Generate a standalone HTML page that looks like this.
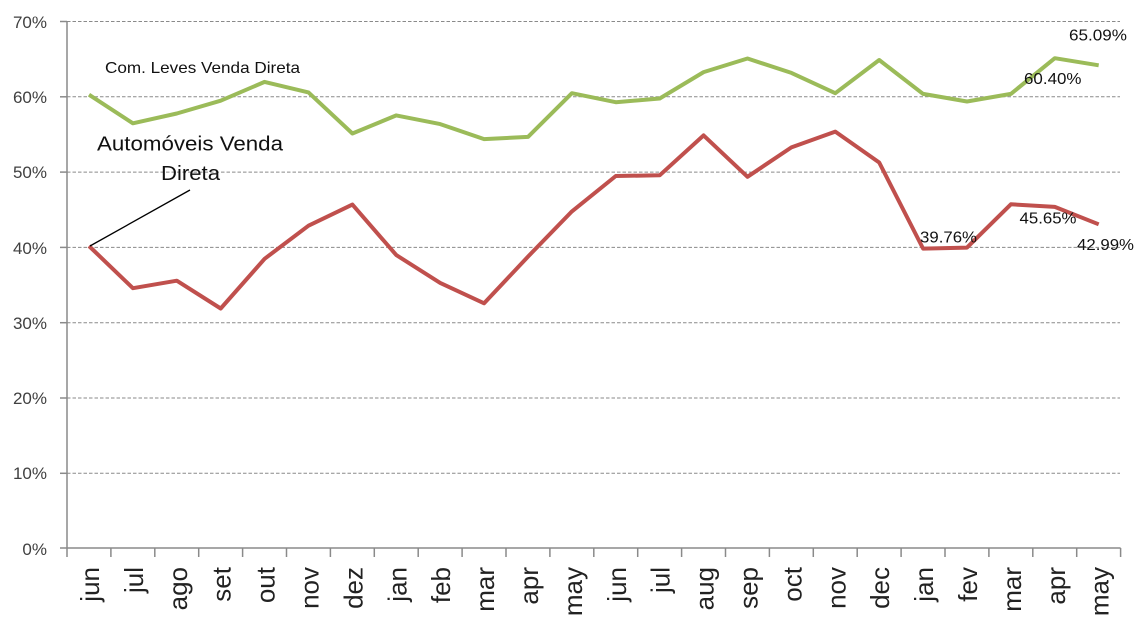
<!DOCTYPE html>
<html>
<head>
<meta charset="utf-8">
<style>
html,body{margin:0;padding:0;background:#fff;}
svg{display:block;}
text{font-family:"Liberation Sans",sans-serif;}
</style>
</head>
<body>
<svg width="1140" height="627" viewBox="0 0 1140 627" xmlns="http://www.w3.org/2000/svg">
<rect width="1140" height="627" fill="#fff"/>
<!-- gridlines -->
<g stroke="#8a8a8a" stroke-width="1" stroke-dasharray="3.5 2">
<line x1="67" y1="21.5" x2="1120" y2="21.5"/>
<line x1="67" y1="96.8" x2="1120" y2="96.8"/>
<line x1="67" y1="172.1" x2="1120" y2="172.1"/>
<line x1="67" y1="247.4" x2="1120" y2="247.4"/>
<line x1="67" y1="322.7" x2="1120" y2="322.7"/>
<line x1="67" y1="398" x2="1120" y2="398"/>
<line x1="67" y1="473.3" x2="1120" y2="473.3"/>
</g>
<!-- axes -->
<g stroke="#8a8a8a" stroke-width="1.5" fill="none">
<line x1="67" y1="21" x2="67" y2="557"/>
<line x1="60" y1="548" x2="1120.6" y2="548"/>
<line x1="60" y1="21.5" x2="67" y2="21.5"/>
<line x1="60" y1="96.8" x2="67" y2="96.8"/>
<line x1="60" y1="172.1" x2="67" y2="172.1"/>
<line x1="60" y1="247.4" x2="67" y2="247.4"/>
<line x1="60" y1="322.7" x2="67" y2="322.7"/>
<line x1="60" y1="398" x2="67" y2="398"/>
<line x1="60" y1="473.3" x2="67" y2="473.3"/>
<path d="M110.9 548V557M154.8 548V557M198.7 548V557M242.6 548V557M286.5 548V557M330.4 548V557M374.3 548V557M418.2 548V557M462.1 548V557M506 548V557M549.9 548V557M593.8 548V557M637.7 548V557M681.6 548V557M725.5 548V557M769.4 548V557M813.3 548V557M857.2 548V557M901.1 548V557M945 548V557M988.9 548V557M1032.8 548V557M1076.7 548V557M1120.6 548V557"/>
</g>
<!-- y labels -->
<g font-size="17" fill="#404040" text-anchor="end">
<text x="47" y="28">70%</text>
<text x="47" y="103">60%</text>
<text x="47" y="178">50%</text>
<text x="47" y="254">40%</text>
<text x="47" y="329">30%</text>
<text x="47" y="404">20%</text>
<text x="47" y="479">10%</text>
<text x="47" y="555">0%</text>
</g>
<!-- x labels -->
<g font-size="26" fill="#222" text-anchor="end">
<text transform="translate(99,567) rotate(-90)">jun</text>
<text transform="translate(142.9,567) rotate(-90)">jul</text>
<text transform="translate(186.8,567) rotate(-90)">ago</text>
<text transform="translate(230.7,567) rotate(-90)">set</text>
<text transform="translate(274.6,567) rotate(-90)">out</text>
<text transform="translate(318.5,567) rotate(-90)">nov</text>
<text transform="translate(362.4,567) rotate(-90)">dez</text>
<text transform="translate(406.3,567) rotate(-90)">jan</text>
<text transform="translate(450.2,567) rotate(-90)">feb</text>
<text transform="translate(494.1,567) rotate(-90)">mar</text>
<text transform="translate(538,567) rotate(-90)">apr</text>
<text transform="translate(581.9,567) rotate(-90)">may</text>
<text transform="translate(625.8,567) rotate(-90)">jun</text>
<text transform="translate(669.7,567) rotate(-90)">jul</text>
<text transform="translate(713.6,567) rotate(-90)">aug</text>
<text transform="translate(757.5,567) rotate(-90)">sep</text>
<text transform="translate(801.4,567) rotate(-90)">oct</text>
<text transform="translate(845.3,567) rotate(-90)">nov</text>
<text transform="translate(889.2,567) rotate(-90)">dec</text>
<text transform="translate(933.1,567) rotate(-90)">jan</text>
<text transform="translate(977,567) rotate(-90)">fev</text>
<text transform="translate(1020.9,567) rotate(-90)">mar</text>
<text transform="translate(1064.8,567) rotate(-90)">apr</text>
<text transform="translate(1108.7,567) rotate(-90)">may</text>
</g>
<!-- series -->
<polyline fill="none" stroke="#9BBB59" stroke-width="4" stroke-linejoin="round" points="89,94.7 132.9,123.3 176.8,113.5 220.7,100.7 264.6,81.9 308.5,92.4 352.4,133.5 396.3,115.4 440.2,124.1 484.1,139.1 528,136.9 571.9,93.2 615.8,102.2 659.7,98.5 703.6,72.1 747.5,58.5 791.4,72.9 835.3,93.2 879.2,60 923.1,93.9 967,101.5 1010.9,93.9 1054.8,58.2 1098.7,65.3"/>
<polyline fill="none" stroke="#C0504D" stroke-width="4" stroke-linejoin="round" points="89,246 132.9,288.2 176.8,280.7 220.7,308.5 264.6,258.8 308.5,225.7 352.4,204.6 396.3,255.1 440.2,282.9 484.1,303.3 528,256.6 571.9,211.4 615.8,176 659.7,175.3 703.6,135.4 747.5,176.8 791.4,147.4 835.3,131.6 879.2,162.5 923.1,248.6 967,247.6 1010.9,204.3 1054.8,206.9 1098.7,224.3"/>
<!-- annotations -->
<line x1="90" y1="246" x2="190" y2="190" stroke="#000" stroke-width="1.3"/>
<g fill="#111">
<text x="105" y="73" font-size="16" textLength="195" lengthAdjust="spacingAndGlyphs">Com. Leves Venda Direta</text>
<text x="97" y="150.5" font-size="20.5" textLength="186" lengthAdjust="spacingAndGlyphs">Automóveis Venda</text>
<text x="161" y="180" font-size="20.5" textLength="59" lengthAdjust="spacingAndGlyphs">Direta</text>
<text x="1069" y="40.7" font-size="16" textLength="58" lengthAdjust="spacingAndGlyphs">65.09%</text>
<text x="1024" y="84" font-size="16" textLength="57.5" lengthAdjust="spacingAndGlyphs">60.40%</text>
<text x="920" y="242.7" font-size="16" textLength="57" lengthAdjust="spacingAndGlyphs">39.76%</text>
<text x="1019.5" y="223.3" font-size="16" textLength="57" lengthAdjust="spacingAndGlyphs">45.65%</text>
<text x="1077" y="250" font-size="16" textLength="57" lengthAdjust="spacingAndGlyphs">42.99%</text>
</g>
</svg>
</body>
</html>
